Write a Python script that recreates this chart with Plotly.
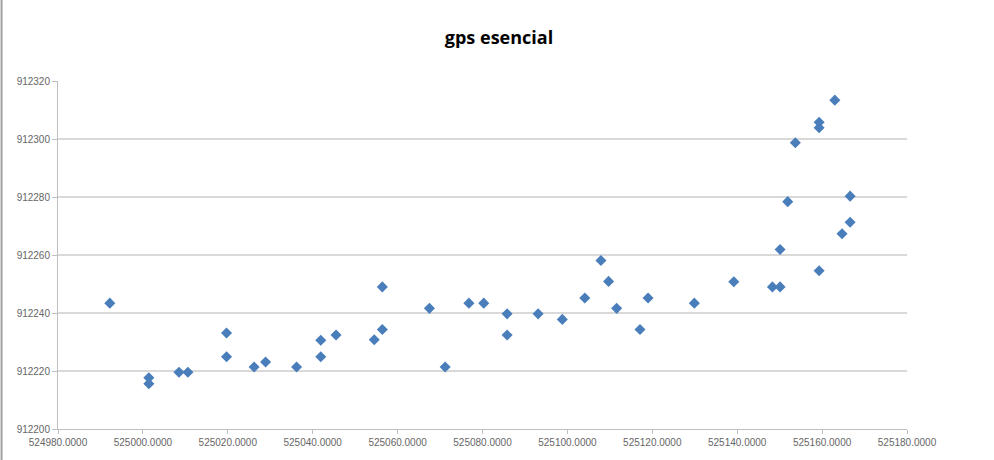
import plotly.graph_objects as go

# Easting (x) and northing (y) of GPS points
x_vals = [
    524992.2, 525001.4, 525001.4, 525008.5, 525010.6, 525019.7, 525019.7,
    525026.2, 525028.9, 525036.2, 525041.9, 525041.9, 525045.5, 525054.5,
    525056.4, 525056.4, 525067.5, 525071.2, 525076.8, 525080.3, 525085.8,
    525085.8, 525093.1, 525098.8, 525104.1, 525107.9, 525109.7, 525111.6,
    525117.1, 525119.0, 525129.9, 525139.2, 525148.3, 525150.1, 525150.1,
    525151.9, 525153.7, 525159.3, 525159.3, 525159.3, 525163.0, 525164.7,
    525166.6, 525166.6,
]
y_vals = [
    912243.4, 912217.7, 912215.6, 912219.6, 912219.6, 912233.1, 912224.9,
    912221.4, 912223.1, 912221.4, 912230.6, 912224.9, 912232.4, 912230.8,
    912249.0, 912234.3, 912241.6, 912221.4, 912243.4, 912243.4, 912239.7,
    912232.4, 912239.7, 912237.8, 912245.2, 912258.1, 912250.9, 912241.6,
    912234.3, 912245.2, 912243.4, 912250.8, 912249.0, 912249.0, 912261.9,
    912278.4, 912298.7, 912305.8, 912303.9, 912254.6, 912313.4, 912267.3,
    912271.3, 912280.3,
]
x_ticks = [524980 + 20 * i for i in range(11)]
y_ticks = [912200 + 20 * i for i in range(7)]

fig = go.Figure()
fig.add_trace(go.Scatter(
    x=x_vals, y=y_vals, mode="markers",
    marker=dict(symbol="diamond", size=8.5, color="#4a7ebb",
                line=dict(width=0)),
    showlegend=False,
))

fig.update_layout(
    width=994, height=460,
    paper_bgcolor="white", plot_bgcolor="white",
    margin=dict(l=58, r=87, t=81, b=28),
    title=dict(text="<b>gps esencial</b>", x=0.502, xanchor="center",
               y=0.918, yanchor="middle",
               font=dict(family="Open Sans", size=18, color="#000000")),
    font=dict(family="Liberation Sans", size=10, color="#666666"),
    xaxis=dict(
        range=[524980, 525180], tickvals=x_ticks,
        ticktext=[f"{v:.4f}" for v in x_ticks],
        showgrid=False, zeroline=False,
        showline=True, linecolor="#bfbfbf", linewidth=1,
        ticks="outside", ticklen=4, tickcolor="#bfbfbf",
        tickfont=dict(size=10, color="#666666"),
    ),
    yaxis=dict(
        range=[912200, 912320], tickvals=y_ticks,
        ticktext=[str(v) for v in y_ticks],
        showgrid=True, gridcolor="#d9d9d9", gridwidth=1.5,
        zeroline=False,
        showline=True, linecolor="#bfbfbf", linewidth=1,
        ticks="outside", ticklen=5, tickcolor="#bfbfbf",
        tickfont=dict(size=10, color="#666666"),
    ),
    shapes=[dict(type="line", xref="paper", yref="paper",
                 x0=-0.0665, x1=-0.0665, y0=-0.1, y1=1.3,
                 line=dict(color="#a0a0a0", width=2))],
)

fig.write_html("out.html",
               config={"displayModeBar": False},
               post_script="document.body.style.margin='0';")
